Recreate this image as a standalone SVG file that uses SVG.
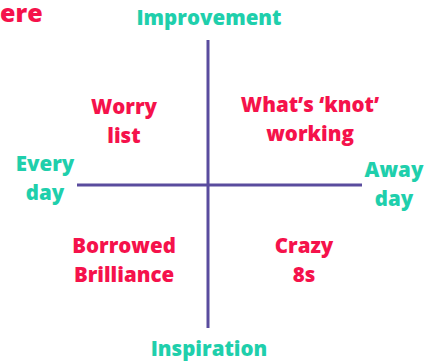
<svg xmlns="http://www.w3.org/2000/svg" width="435" height="363" viewBox="0 0 435 363">
<style>
.t{font-family:"Open Sans","Liberation Sans",sans-serif;font-weight:800;font-size:20.5px;text-anchor:middle}
.g{fill:#1fcfac}
.r{fill:#f5124b}
.ax{stroke:#5a4c9e;stroke-width:3;fill:none}
</style>
<rect width="435" height="363" fill="#ffffff"/>
<text x="0" y="22" font-family="Open Sans, Liberation Sans, sans-serif" font-weight="800" font-size="25" fill="#f5124b">ere</text>
<g id="connectors">
<line class="ax" x1="208" y1="40" x2="208" y2="328"/>
<line class="ax" x1="77" y1="185" x2="362" y2="185"/>
</g>
<g id="improvement"><text class="t g" x="209" y="25">Improvement</text></g>
<g id="inspiration"><text class="t g" x="209" y="356">Inspiration</text></g>
<g id="everyday"><text class="t g" x="45" y="171">Every</text><text class="t g" x="45" y="200">day</text></g>
<g id="awayday"><text class="t g" x="394" y="177">Away</text><text class="t g" x="394" y="206">day</text></g>
<g id="worry"><text class="t r" x="124" y="114">Worry</text><text class="t r" x="124" y="143">list</text></g>
<g id="knot"><text class="t r" x="310" y="112">What’s ‘knot’</text><text class="t r" x="310" y="141">working</text></g>
<g id="borrowed"><text class="t r" x="124" y="253">Borrowed</text><text class="t r" x="124" y="282">Brilliance</text></g>
<g id="crazy"><text class="t r" x="304" y="253">Crazy</text><text class="t r" x="304" y="282">8s</text></g>
</svg>
